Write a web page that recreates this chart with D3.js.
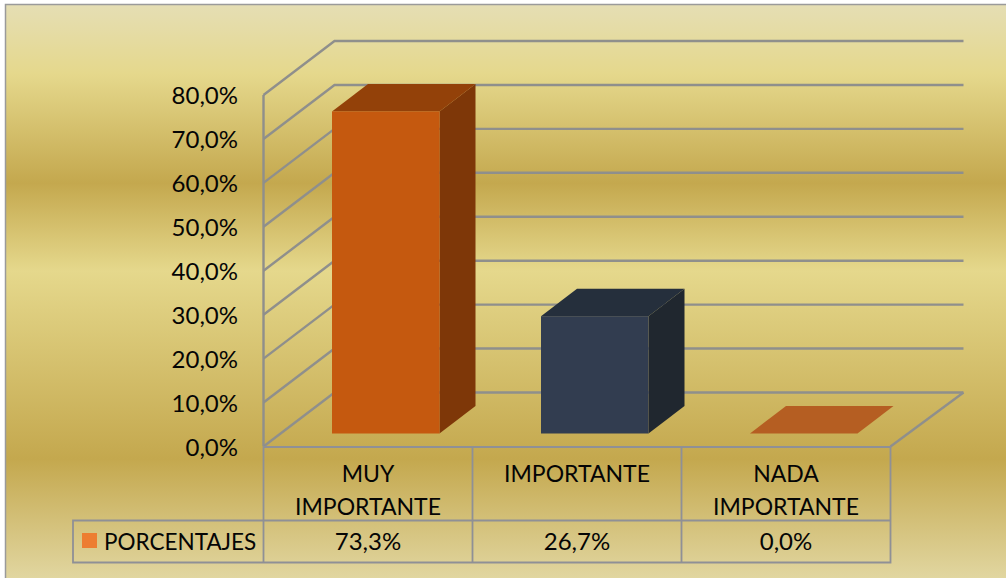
<!DOCTYPE html>
<html><head><meta charset="utf-8">
<script src="https://cdn.jsdelivr.net/npm/d3@7"></script>
<style>html,body{margin:0;padding:0;background:#fff}svg{display:block}text{font-family:Lato,"Open Sans",sans-serif;fill:#050505}</style>
</head><body><svg id="c" width="1006" height="578"></svg>
<script>
const categories = ["MUY IMPORTANTE", "IMPORTANTE", "NADA IMPORTANTE"];
const categoryLines = [["MUY", "IMPORTANTE"], ["IMPORTANTE"], ["NADA", "IMPORTANTE"]];
const seriesName = "PORCENTAJES";
const values = [73.3, 26.7, 0];
const valueLabels = ["73,3%", "26,7%", "0,0%"];
const yTicks = [0, 10, 20, 30, 40, 50, 60, 70, 80];
const barFront = ["#c5590f", "#323d50", "#b55e22"];
const barTop = ["#934109", "#252f3c", "#b55e22"];
const barSide = ["#7e3708", "#20272f", "#b55e22"];

const svg = d3.select("#c");
const fmt = v => v.toFixed(1).replace(".", ",") + "%";
const y = d3.scaleLinear().domain([0, 80]).range([446.5, 95]);
const x = d3.scaleBand().domain(categories).range([263.5, 890.5]);
const W = {dx: 71, dy: -54};      // wall depth
const B = {inset: 68.5, w: 107.5, dx: 36, dy: -27.5, lift: 13}; // bar placement inside a band

const grad = svg.append("defs").append("linearGradient").attr("id", "bg")
  .attr("gradientUnits", "userSpaceOnUse").attr("x1", 0).attr("x2", 0).attr("y1", 5).attr("y2", 578);
[[5,"#e5deb4"],[74,"#e5d88c"],[183,"#c4a84e"],[271,"#e5d88c"],[459,"#c4a84e"],[578,"#e1d6a0"]]
  .forEach(s => grad.append("stop").attr("offset", (s[0]-5)/573).attr("stop-color", s[1]));

svg.append("rect").attr("x", 6).attr("y", 5).attr("width", 1000).attr("height", 573).attr("fill", "url(#bg)");
svg.append("path").attr("d", "M5.5,578V4.5H1006").attr("fill", "none").attr("stroke", "#9a9a9a").attr("stroke-width", 1.5);

const gridC = "#8f8f8c";
const xL = x.range()[0], xR = x.range()[1];
const grid = svg.append("g").attr("fill", "none").attr("stroke", gridC).attr("stroke-width", 2.4);
yTicks.forEach(t => {
  const Y = y(t);
  grid.append("path").attr("d", `M${xL},${Y}L${xL+W.dx},${Y+W.dy}L${xR+W.dx+2},${Y+W.dy}`);
});
grid.append("path").attr("d", `M${xL},${y(0)}V${y(80)}`);
grid.append("path").attr("d", `M${xR},${y(0)}L${xR+W.dx+2},${y(0)+W.dy}`);

// bars
categories.forEach((c, i) => {
  const x0 = x(c) + B.inset, x1 = x0 + B.w;
  const yb = y(0) - B.lift, yt = y(values[i]) - B.lift;
  const g = svg.append("g");
  g.append("path").attr("fill", barSide[i])
    .attr("d", `M${x1},${yb}L${x1+B.dx},${yb+B.dy}L${x1+B.dx},${yt+B.dy}L${x1},${yt}Z`);
  g.append("path").attr("fill", barTop[i])
    .attr("d", `M${x0},${yt}L${x0+B.dx},${yt+B.dy}L${x1+B.dx},${yt+B.dy}L${x1},${yt}Z`);
  g.append("rect").attr("x", x0).attr("y", yt).attr("width", B.w).attr("height", yb-yt).attr("fill", barFront[i]);
});

// y-axis labels
svg.append("g").selectAll("text").data(yTicks).join("text")
  .attr("x", 238).attr("y", d => y(d)).attr("dy", "0.38em").attr("text-anchor", "end")
  .attr("font-size", 24).text(fmt);

// data table
const tTop = 447, tMid = 520.5, tBot = 562.5, tLeft = 73;
const tb = svg.append("g").attr("fill", "none").attr("stroke", "#8f9096").attr("stroke-width", 1.8);
tb.append("path").attr("d", `M${xL},${tTop}H${xR}V${tBot}H${tLeft}V${tMid}H${xR}`);
[xL, x(categories[1]), x(categories[2])].forEach(X => tb.append("path").attr("d", `M${X},${tTop}V${tBot}`));

categories.forEach((c, i) => {
  const cx = x(c) + x.bandwidth()/2;
  categoryLines[i].forEach((ln, j) => svg.append("text").attr("x", cx).attr("y", 481.5 + j*33)
    .attr("text-anchor", "middle").attr("font-size", 23).text(ln));
  svg.append("text").attr("x", cx).attr("y", 549.5).attr("text-anchor", "middle").attr("font-size", 24).text(valueLabels[i]);
});
svg.append("rect").attr("x", 82).attr("y", 533).attr("width", 15).attr("height", 15).attr("fill", "#ed7d31");
svg.append("text").attr("x", 104).attr("y", 549.5).attr("font-size", 22.5).text(seriesName);
</script></body></html>
